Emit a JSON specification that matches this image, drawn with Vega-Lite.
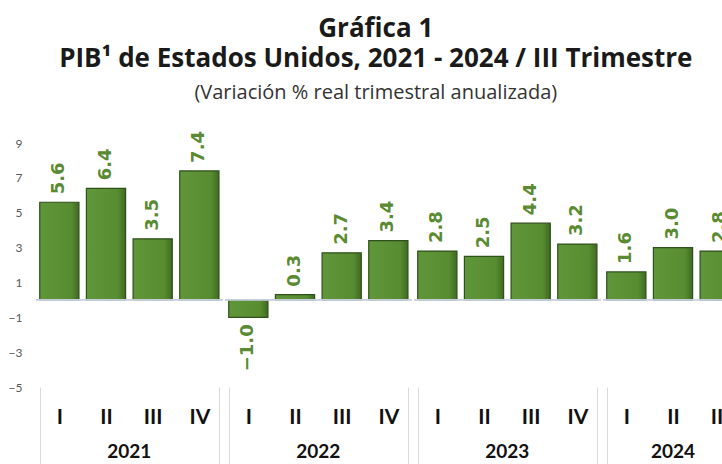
{
  "$schema": "https://vega.github.io/schema/vega-lite/v6.json",
  "background": "white",
  "padding": {"left": 8, "top": 15, "right": 0, "bottom": 0},
  "data": {"values": [
    {"year": "2021", "q": "I", "v": 5.6},
    {"year": "2021", "q": "II", "v": 6.4},
    {"year": "2021", "q": "III", "v": 3.5},
    {"year": "2021", "q": "IV", "v": 7.4},
    {"year": "2022", "q": "I", "v": -1.0},
    {"year": "2022", "q": "II", "v": 0.3},
    {"year": "2022", "q": "III", "v": 2.7},
    {"year": "2022", "q": "IV", "v": 3.4},
    {"year": "2023", "q": "I", "v": 2.8},
    {"year": "2023", "q": "II", "v": 2.5},
    {"year": "2023", "q": "III", "v": 4.4},
    {"year": "2023", "q": "IV", "v": 3.2},
    {"year": "2024", "q": "I", "v": 1.6},
    {"year": "2024", "q": "II", "v": 3.0},
    {"year": "2024", "q": "III", "v": 2.8}
  ]},
  "title": {
    "text": ["Gráfica 1", "PIB¹ de Estados Unidos, 2021 - 2024 / III Trimestre"],
    "subtitle": "(Variación % real trimestral anualizada)",
    "anchor": "middle",
    "font": "Open Sans",
    "fontSize": 26,
    "fontWeight": "bold",
    "color": "#1a1a1a",
    "lineHeight": 30,
    "subtitleFont": "Open Sans",
    "subtitleFontSize": 20,
    "subtitleColor": "#333333",
    "subtitlePadding": 11,
    "offset": 28
  },
  "facet": {
    "column": {
      "field": "year",
      "type": "ordinal",
      "header": {
        "title": null,
        "labelOrient": "bottom",
        "labelFont": "Lato",
        "labelFontSize": 19,
        "labelFontWeight": "bold",
        "labelColor": "#111111",
        "labelPadding": -27
      }
    }
  },
  "spacing": 0,
  "resolve": {"scale": {"x": "independent"}},
  "spec": {
    "width": {"step": 46.67},
    "height": 244,
    "layer": [
      {
        "mark": {
          "type": "bar",
          "color": {"x1": 0, "y1": 0, "x2": 1, "y2": 0, "gradient": "linear", "stops": [
            {"offset": 0, "color": "#60963a"},
            {"offset": 0.8, "color": "#588c31"},
            {"offset": 1, "color": "#3f6a22"}
          ]},
          "stroke": "#2f4f1b",
          "strokeWidth": 1.2
        },
        "encoding": {
          "x": {
            "field": "q", "type": "ordinal", "sort": ["I", "II", "III", "IV"],
            "scale": {"paddingInner": 0.16, "paddingOuter": 0.08},
            "axis": {
              "title": null,
              "domain": false,
              "labelAngle": 0,
              "labelFont": "Lato",
              "labelFontSize": 21,
              "labelFontWeight": "bold",
              "labelColor": "#111111",
              "tickBand": "extent",
              "tickSize": 82,
              "tickColor": "#d9d9d9",
              "tickOpacity": {"condition": {"test": "datum.value === 'IV' || datum.extra", "value": 1}, "value": 0},
              "labelPadding": -63,
              "offset": 0
            }
          },
          "y": {
            "field": "v", "type": "quantitative",
            "scale": {"domain": [-5, 9], "nice": false, "zero": false},
            "axis": {
              "title": null,
              "values": [-5, -3, -1, 1, 3, 5, 7, 9],
              "tickCount": 12,
              "labelOverlap": false,
              "domain": false,
              "ticks": false,
              "grid": false,
              "labelFont": "Lato",
              "labelFontSize": 12,
              "labelColor": "#595959",
              "labelPadding": 13
            }
          }
        }
      },
      {
        "mark": {"type": "rule", "color": "#c9d0dc", "strokeWidth": 1},
        "encoding": {"y": {"datum": 0, "type": "quantitative"}}
      },
      {
        "transform": [{"filter": "datum.v >= 0"}],
        "mark": {"type": "text", "angle": 270, "align": "left", "baseline": "middle", "dx": 8, "font": "DejaVu Sans", "fontSize": 18, "fontWeight": "bold", "color": "#5a8a32"},
        "encoding": {
          "x": {"field": "q", "type": "ordinal", "sort": ["I", "II", "III", "IV"]},
          "y": {"field": "v", "type": "quantitative"},
          "text": {"field": "v", "type": "quantitative", "format": ".1f"}
        }
      },
      {
        "transform": [{"filter": "datum.v < 0"}],
        "mark": {"type": "text", "angle": 270, "align": "right", "baseline": "middle", "dx": -7, "font": "DejaVu Sans", "fontSize": 18, "fontWeight": "bold", "color": "#5a8a32"},
        "encoding": {
          "x": {"field": "q", "type": "ordinal", "sort": ["I", "II", "III", "IV"]},
          "y": {"field": "v", "type": "quantitative"},
          "text": {"field": "v", "type": "quantitative", "format": ".1f"}
        }
      }
    ]
  },
  "config": {
    "view": {"stroke": null},
    "axisY": {"labelOverlap": false}
  }
}
